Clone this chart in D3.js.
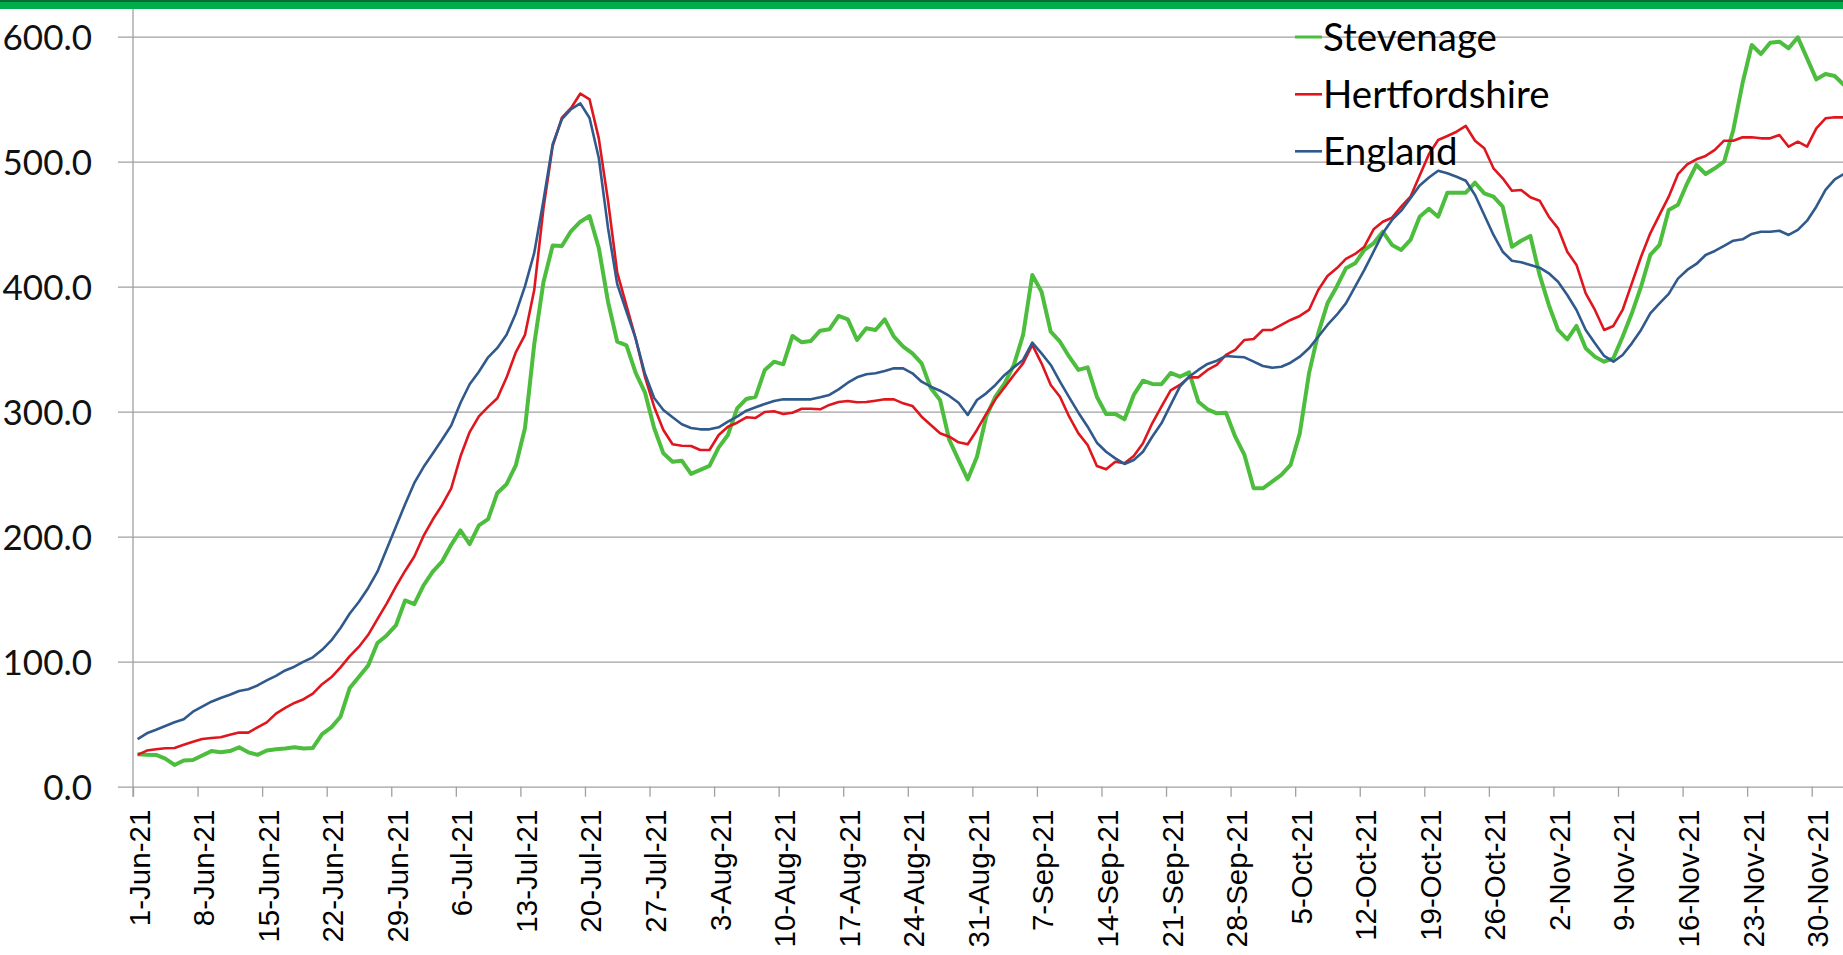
<!DOCTYPE html>
<html><head><meta charset="utf-8">
<script src="https://cdn.jsdelivr.net/npm/d3@7"></script>
<style>html,body{margin:0;padding:0;background:#fff;overflow:hidden}</style>
</head><body>
<svg id="chart" width="1843" height="955"></svg>
<script>
// ---- data ----
const startDate = "1-Jun-21";
const seriesNames = ["Stevenage", "Hertfordshire", "England"];
const stevenage = [
 26, 25.5, 25.4, 22.5, 17.4, 21, 21.4, 25, 28.5, 27.5,
 28.5, 31.5, 27.5, 25.5, 29, 30, 30.5, 31.5, 30.5, 31,
 42, 47.5, 56, 79, 88, 97, 115, 121, 129, 149,
 146, 161, 172, 180, 193.5, 205, 194, 209, 214, 235,
 242, 257, 287, 354, 403.5, 433, 432.5, 444.5, 452, 456.5,
 431, 388, 356, 353, 331, 315.5, 287, 266.7, 260, 260.8,
 250.2, 253.4, 256.6, 271.5, 281.4, 302.7, 310.2, 312, 333.4, 340,
 337.9, 360.6, 355.5, 356.6, 364.8, 365.9, 376.6, 373.9, 357.4, 366.7,
 365.4, 373.9, 360, 352, 346.7, 338.7, 318.7, 309.4, 277.4, 261.4,
 245.9, 264, 296, 312, 322.7, 337.4, 361.4, 409.4, 396, 364,
 356, 344, 333.4, 335.5, 312, 298.2, 298.2, 293.9, 313.4, 324.8,
 322.2, 322, 331, 328, 331.5, 308, 301.9, 298.7, 299.2, 280,
 265.4, 238.7, 238.7, 244, 249.4, 257.4, 282.7, 330.7, 362.7, 386.7,
 400, 414.7, 418.7, 429.4, 434.7, 444, 433.4, 429.4, 437.4, 456,
 462.3, 456, 475.2, 475.2, 475.2, 483.2, 474.7, 472, 464, 432,
 436.8, 440.6, 409.4, 385.4, 365.4, 357.9, 368.6, 350.7, 344, 340,
 342.7, 360, 378.7, 400, 425.4, 433.4, 461.4, 465.5, 482.7, 497.4,
 490.2, 494.7, 500, 525.4, 562.7, 593.4, 586.2, 595.2, 596, 590.7,
 599.5, 582.7, 565.9, 570.2, 568.6, 561.4
];
const hertfordshire = [
 25.5, 28.9, 30, 30.7, 31, 33.5, 36, 38.2, 39, 39.5,
 41.5, 43.3, 43.3, 47.5, 51.5, 58.5, 63, 67, 70, 74.5,
 82, 87.5, 95.5, 104.5, 112, 121.5, 134, 146.5, 160, 172.6,
 184.1, 200.6, 213.7, 225.2, 238.6, 264.1, 283.7, 296.2, 303.9, 310.8,
 327.3, 347.5, 361.5, 397.3, 462.7, 512.5, 535.2, 543, 554.5, 549.8,
 518.7, 468.9, 411.3, 384.9, 358.4, 328, 304, 285.4, 273.9, 272.8,
 272.6, 269.4, 269.4, 281.4, 288, 291.2, 295.5, 295, 299.8, 300.3,
 298.2, 299.2, 302.4, 302.4, 301.9, 305.4, 307.8, 308.6, 307.5, 307.8,
 308.8, 309.9, 309.9, 306.7, 304.6, 296, 289.4, 282.7, 280, 275.5,
 273.9, 285.4, 298.2, 309.9, 319.5, 329.4, 338.7, 353.4, 338.7, 321.4,
 312, 296, 282.7, 273.4, 256.6, 253.9, 260, 258.7, 264.6, 274.7,
 290.7, 304, 317, 321.4, 327.5, 327.5, 333.4, 337.4, 345.4, 349.4,
 357.4, 358.2, 365.4, 365.4, 369.4, 373.4, 376.6, 381.4, 397.4, 408.6,
 414.7, 422.2, 426.2, 432, 445.9, 452, 455.2, 464, 472, 489,
 506, 517.4, 520.6, 524, 528.6, 516.8, 510.7, 494.7, 486.7, 476.8,
 477.4, 471.5, 468.8, 456, 446.7, 428, 417.4, 394.7, 381.4, 365.4,
 368.6, 381.4, 402.7, 424, 442.7, 457.4, 472, 490, 497.8, 501.9,
 504.6, 509.4, 516.8, 516.8, 519.5, 519.5, 518.7, 518.7, 521.4, 512,
 516, 512, 526.7, 534.7, 535.5, 535.5
];
const england = [
 38, 42.7, 45.5, 48.5, 51.5, 54, 60, 64, 68, 71,
 73.5, 76.5, 78, 81, 85, 88.6, 93, 96, 100, 103.5,
 109.5, 117, 127, 138.5, 148, 159, 172, 190, 208, 226,
 243, 255.7, 266.6, 277.5, 289, 307, 322, 332, 343.5, 351,
 361.5, 378.6, 400.4, 427, 469, 514, 534, 542, 546.7, 535,
 503, 447, 402, 380, 358.4, 330.5, 311, 301.4, 295.5, 289.9,
 287, 285.9, 285.9, 287.5, 292, 296, 300.8, 303.5, 306.2, 308.6,
 309.9, 309.9, 309.9, 309.9, 311.5, 313.4, 317.9, 323.2, 327.5, 329.9,
 330.7, 332.6, 334.7, 334.7, 330.7, 324, 320, 316.8, 312.6, 307.2,
 297.4, 309.4, 314.7, 321.4, 329.4, 335.5, 341.4, 355.2, 346.7, 337.4,
 324, 311.5, 299.2, 288, 275.2, 268, 262.7, 258.2, 261.4, 268,
 280, 290.7, 305.5, 320, 328, 333.4, 338.2, 340.8, 344.6, 344,
 343.5, 340, 336.6, 335.2, 336, 339.2, 344, 350.7, 360, 369.4,
 377.4, 386.7, 400, 413.4, 428, 442.7, 453.4, 460.8, 470.7, 481,
 487.3, 492.8, 490.7, 488, 484.8, 473.4, 457.4, 441.4, 428, 420.8,
 419.5, 417.4, 415.2, 410.7, 404, 393.4, 381.4, 365.4, 354.7, 344.6,
 340, 345.4, 354.7, 365.4, 378.7, 386.7, 394.2, 406.5, 413.4, 418.2,
 425.4, 428.6, 432.6, 436.8, 437.9, 442.2, 444, 444, 444.8, 441.4,
 445.4, 452.8, 464, 477.4, 485.9, 490.2
];
const xTickLabels = ["1-Jun-21","8-Jun-21","15-Jun-21","22-Jun-21","29-Jun-21","6-Jul-21","13-Jul-21",
 "20-Jul-21","27-Jul-21","3-Aug-21","10-Aug-21","17-Aug-21","24-Aug-21","31-Aug-21","7-Sep-21",
 "14-Sep-21","21-Sep-21","28-Sep-21","5-Oct-21","12-Oct-21","19-Oct-21","26-Oct-21","2-Nov-21",
 "9-Nov-21","16-Nov-21","23-Nov-21","30-Nov-21"];
const yTickValues = [0, 100, 200, 300, 400, 500, 600];

// ---- styles / layout ----
const colors = ["#4dbd3e", "#e0161e", "#30598c"];
const widths = [4, 2.6, 2.6];
const W = 1843, H = 955;
const plotLeft = 133, plotTop = 9, plotBottom = 786.7;
const dayW = 9.2236;
const nDays = 186;

const parse = d3.utcParse("%d-%b-%y");
const t0 = parse(startDate);
const dates = d3.utcDay.range(t0, d3.utcDay.offset(t0, stevenage.length));
const tickDates = xTickLabels.map(parse);

const x = d3.scaleUtc().domain([t0, d3.utcDay.offset(t0, nDays)]).range([plotLeft, plotLeft + nDays * dayW]);
const y = d3.scaleLinear().domain([0, 600]).range([plotBottom, 36.7]);

const svg = d3.select("#chart");
svg.append("rect").attr("width", W).attr("height", H).attr("fill", "#fff");

// gridlines (with outward tick stubs)
const grid = svg.append("g").attr("transform", `translate(${plotLeft - 15},0)`)
  .call(d3.axisLeft(y).tickValues(yTickValues).tickSize(-(W - plotLeft + 30)).tickFormat(""));
grid.select(".domain").remove();
grid.selectAll("line").attr("stroke", "#a0a0a0").attr("stroke-width", 1.3);

// y labels
const yl = svg.append("g").attr("transform", "translate(92,0)")
  .call(d3.axisLeft(y).tickValues(yTickValues).tickSize(0).tickPadding(0).tickFormat(d3.format(".1f")));
yl.select(".domain").remove();
yl.selectAll("text").attr("x", 0).attr("dy", null).attr("y", 12.6)
  .attr("font-family", "Lato, 'Open Sans', sans-serif").attr("font-size", 35).attr("fill", "#111");

// y axis line
svg.append("line").attr("x1", plotLeft).attr("x2", plotLeft).attr("y1", plotTop).attr("y2", plotBottom + 10)
  .attr("stroke", "#a0a0a0").attr("stroke-width", 1.3);

// x axis
const xa = svg.append("g").attr("transform", `translate(0,${plotBottom})`)
  .call(d3.axisBottom(x).tickValues(tickDates).tickSize(10).tickFormat((d, i) => xTickLabels[i]));
xa.select(".domain").remove();
xa.selectAll("line").attr("stroke", "#a0a0a0").attr("stroke-width", 1.3);
xa.selectAll("text")
  .attr("text-anchor", "end")
  .attr("dy", null).attr("y", 0)
  .attr("transform", "translate(16,23) rotate(-90)")
  .attr("font-family", "'Liberation Sans', Arial, sans-serif").attr("font-size", 29.5).attr("fill", "#000");

// lines
const series = [stevenage, hertfordshire, england];
const line = d3.line().x((d, i) => x(d3.utcHour.offset(dates[i], 12))).y(d => y(d));
series.forEach((s, k) => {
  svg.append("path").datum(s).attr("d", line).attr("fill", "none")
    .attr("stroke", colors[k]).attr("stroke-width", widths[k])
    .attr("stroke-linejoin", "round").attr("stroke-linecap", "butt");
});

// legend
const legendBase = [50.5, 107.8, 164.8];
const lg = svg.append("g");
seriesNames.forEach((n, k) => {
  lg.append("line").attr("x1", 1295).attr("x2", 1322)
    .attr("y1", legendBase[k] - 13.5).attr("y2", legendBase[k] - 13.5)
    .attr("stroke", colors[k]).attr("stroke-width", k === 0 ? 3 : 2.6);
  lg.append("text").attr("x", 1323).attr("y", legendBase[k]).text(n)
    .attr("font-family", "Lato, 'Open Sans', sans-serif").attr("font-size", 38.5).attr("fill", "#000");
});

// top band
svg.append("rect").attr("x", 0).attr("y", 0).attr("width", W).attr("height", 9).attr("fill", "#00ad4c");
svg.append("rect").attr("x", 0).attr("y", 0).attr("width", W).attr("height", 2).attr("fill", "#0a6a30");
</script>
</body></html>
